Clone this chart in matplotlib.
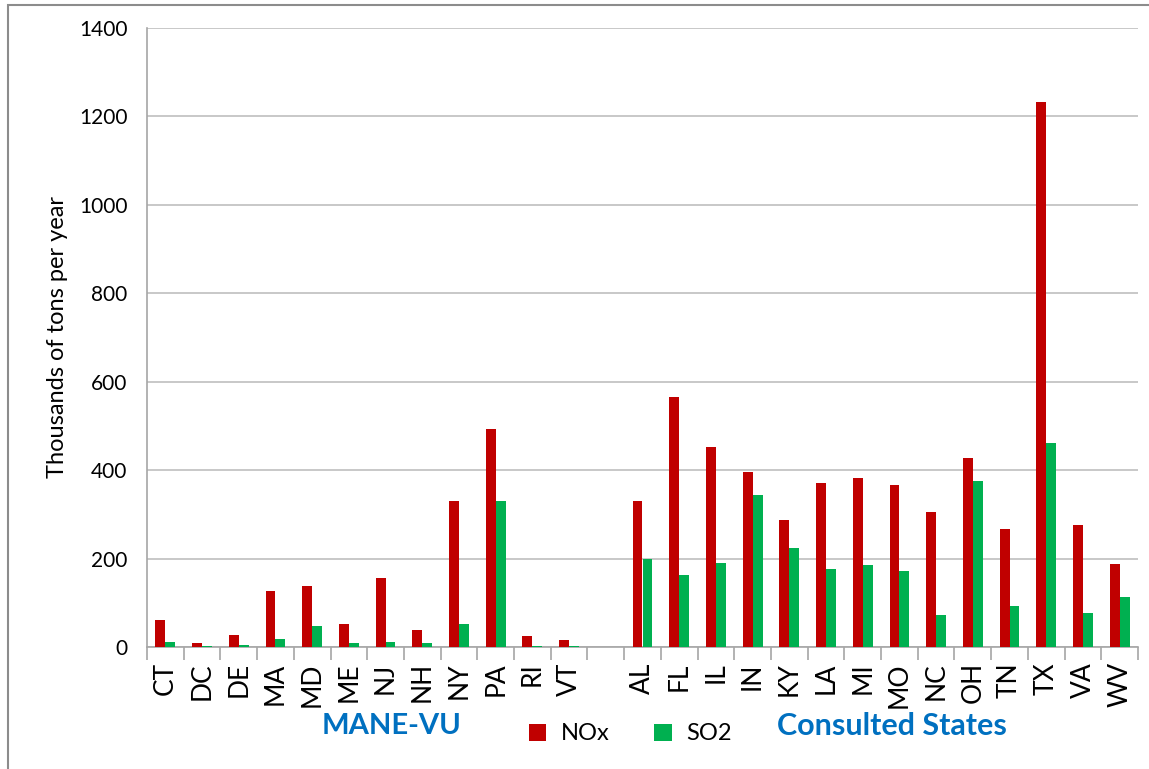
import numpy as np
import matplotlib.pyplot as plt
from matplotlib.patches import Rectangle

plt.rcParams['font.family'] = ['Lato', 'DejaVu Sans']

# emissions, thousands of tons per year
manevu = ['CT', 'DC', 'DE', 'MA', 'MD', 'ME', 'NJ', 'NH', 'NY', 'PA', 'RI', 'VT']
manevu_nox = [61, 8, 27, 127, 138, 52, 155, 38, 330, 493, 24, 16]
manevu_so2 = [12, 2, 4, 18, 47, 10, 12, 8, 52, 330, 2, 2]

consulted = ['AL', 'FL', 'IL', 'IN', 'KY', 'LA', 'MI', 'MO', 'NC', 'OH', 'TN', 'TX', 'VA', 'WV']
consulted_nox = [330, 565, 452, 396, 287, 370, 382, 366, 306, 427, 268, 1233, 276, 187]
consulted_so2 = [200, 163, 191, 344, 225, 176, 185, 173, 72, 375, 93, 461, 78, 113]

labels = manevu + [''] + consulted
nox = manevu_nox + [0] + consulted_nox
so2 = manevu_so2 + [0] + consulted_so2
x = np.arange(len(labels))

red = '#C00000'
green = '#00B050'
blue = '#0070C0'

fig = plt.figure(figsize=(11.49, 7.69), dpi=100)
ax = fig.add_axes([147/1149, 1 - 647/769, (1138-147)/1149, (647-28)/769])

w = 0.27
ax.bar(x - w/2, nox, w, color=red, label='NOx', zorder=3)
ax.bar(x + w/2, so2, w, color=green, label='SO2', zorder=3)

ax.set_xlim(-0.5, len(labels) - 0.5)
ax.set_ylim(0, 1400)
ax.set_yticks(np.arange(0, 1401, 200))
ax.yaxis.grid(True, color='#BFBFBF', linewidth=1.2)
ax.set_axisbelow(True)

ax.set_xticks(x)
ax.set_xticklabels(labels, rotation=90, fontsize=19)
ax.set_xticks(np.arange(-0.5, len(labels)), minor=True)
ax.tick_params(axis='x', which='major', length=0, pad=11)
ax.tick_params(axis='x', which='minor', length=9, color='#A6A6A6', width=1.2)
ax.tick_params(axis='y', length=0, labelsize=15, pad=14)

for s in ['top', 'right']:
    ax.spines[s].set_visible(False)
for s in ['left', 'bottom']:
    ax.spines[s].set_color('#A6A6A6')
    ax.spines[s].set_linewidth(1.2)

ax.set_ylabel('Thousands of tons per year', fontsize=17, labelpad=8)

fig.text(392/1149, 1 - 726/769, 'MANE-VU', color=blue, fontsize=21,
         fontweight='bold', ha='center', va='center')
fig.text(892/1149, 1 - 726/769, 'Consulted States', color=blue, fontsize=22,
         fontweight='bold', ha='center', va='center')

fig.legend(loc='center', bbox_to_anchor=(630/1149, 1 - 734/769), ncol=2,
           frameon=False, fontsize=17, handlelength=0.75, handleheight=0.75,
           columnspacing=1.9, handletextpad=0.6)

fig.patches.append(Rectangle((8/1149, -0.01), 1.02, 1 - 5/769 + 0.01,
                             transform=fig.transFigure, fill=False,
                             edgecolor='#8C8C8C', linewidth=1.5))

fig.savefig('out.png', dpi=100)
